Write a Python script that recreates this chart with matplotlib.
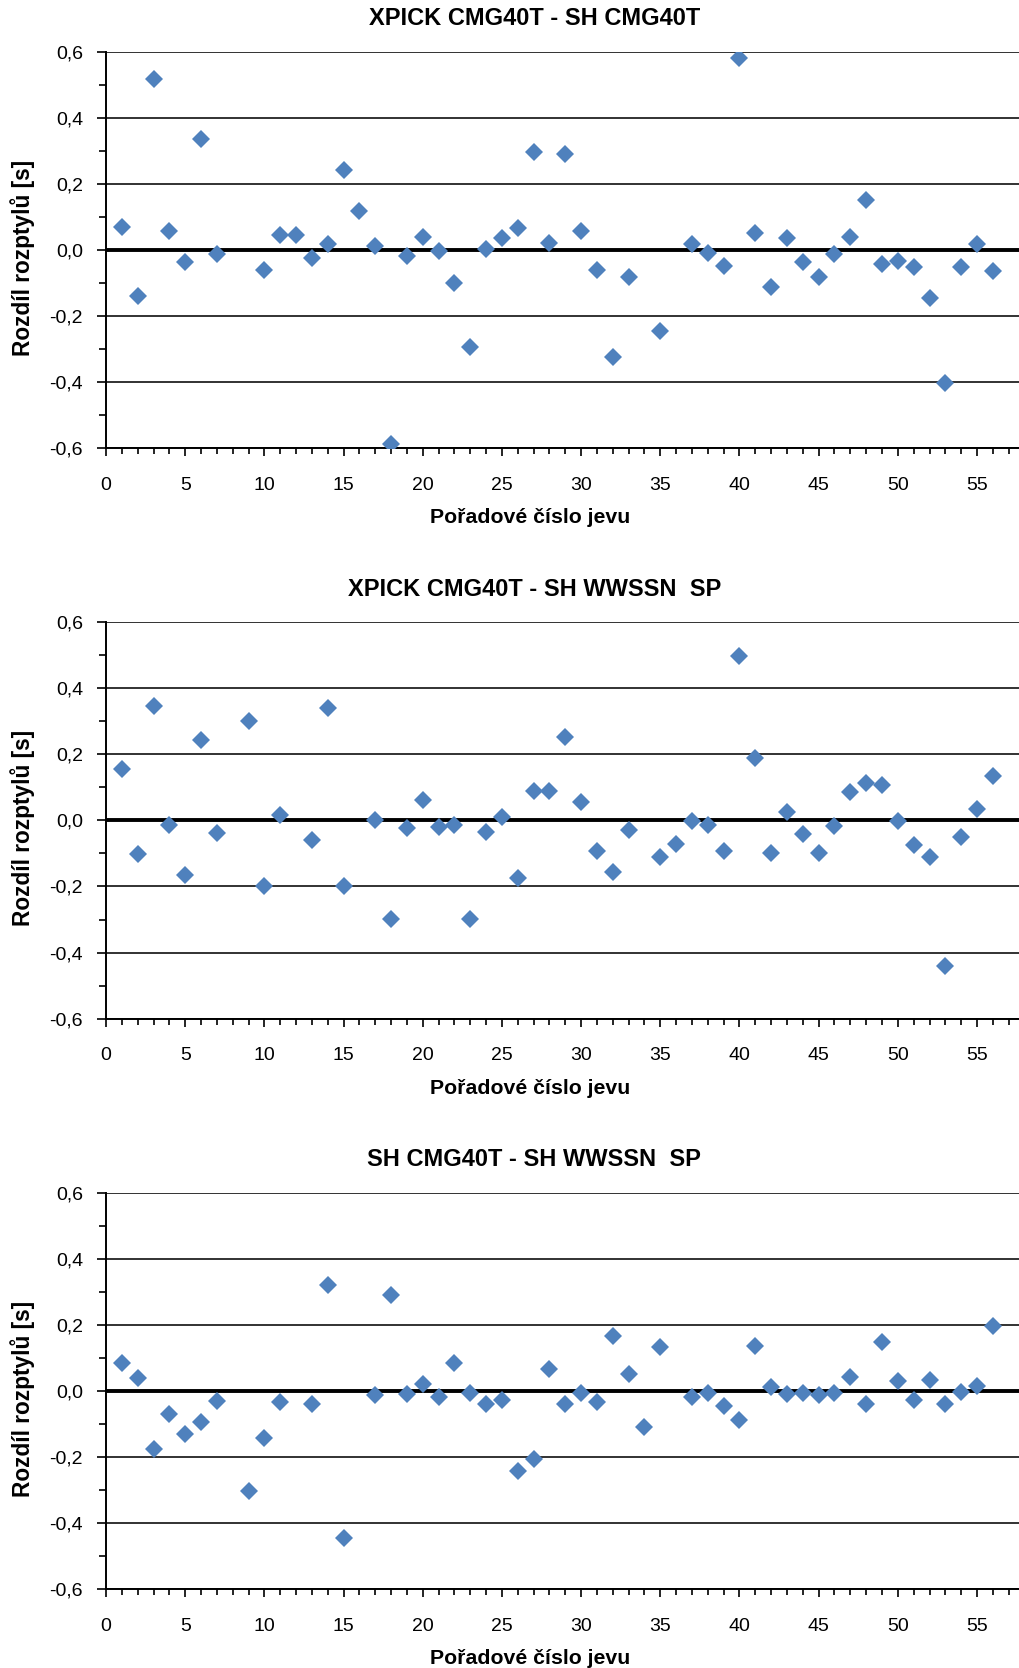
import numpy as np
import matplotlib
matplotlib.use("Agg")
import matplotlib.pyplot as plt
from matplotlib.ticker import MultipleLocator

plt.rcParams["font.family"] = ["Liberation Sans", "DejaVu Sans"]

nan = np.nan

# pořadové číslo jevu 1..56
events = np.arange(1, 57)

titles = [
    "XPICK CMG40T - SH CMG40T",
    "XPICK CMG40T - SH WWSSN  SP",
    "SH CMG40T - SH WWSSN  SP",
]

xpick_vs_sh_cmg = [
    0.069, -0.140, 0.517, 0.058, -0.035, 0.337, -0.013, nan, nan, -0.060,
    0.046, 0.046, -0.023, 0.019, 0.242, 0.119, 0.012, -0.588, -0.018, 0.040,
    -0.002, -0.100, -0.292, 0.003, 0.035, 0.067, 0.296, 0.021, 0.290, 0.058,
    -0.059, -0.325, -0.081, nan, -0.244, nan, 0.019, -0.010, -0.047, 0.581,
    0.052, -0.113, 0.035, -0.035, -0.083, -0.013, 0.040, 0.151, -0.042, -0.033,
    -0.052, -0.144, -0.401, -0.050, 0.017, -0.063,
]

xpick_vs_sh_wwssn = [
    0.155, -0.101, 0.345, -0.013, -0.164, 0.244, -0.039, nan, 0.301, -0.200,
    0.015, nan, -0.059, 0.340, -0.200, nan, 0.000, -0.297, -0.023, 0.063,
    -0.020, -0.015, -0.297, -0.035, 0.010, -0.173, 0.090, 0.090, 0.251, 0.055,
    -0.092, -0.157, -0.029, nan, -0.110, -0.073, -0.002, -0.015, -0.094, 0.496,
    0.190, -0.098, 0.026, -0.041, -0.098, -0.018, 0.085, 0.113, 0.107, -0.002,
    -0.075, -0.110, -0.442, -0.049, 0.034, 0.133,
]

sh_cmg_vs_sh_wwssn = [
    0.084, 0.038, -0.174, -0.070, -0.131, -0.095, -0.030, nan, -0.302, -0.142,
    -0.034, nan, -0.038, 0.321, -0.445, nan, -0.013, 0.290, -0.009, 0.021,
    -0.018, 0.084, -0.006, -0.040, -0.027, -0.241, -0.207, 0.068, -0.040, -0.005,
    -0.033, 0.167, 0.053, -0.109, 0.132, nan, -0.019, -0.007, -0.046, -0.088,
    0.136, 0.013, -0.009, -0.007, -0.013, -0.007, 0.043, -0.038, 0.149, 0.029,
    -0.026, 0.034, -0.039, -0.002, 0.014, 0.196,
]

series = [xpick_vs_sh_cmg, xpick_vs_sh_wwssn, sh_cmg_vs_sh_wwssn]

y_ticks = [-0.6, -0.4, -0.2, 0.0, 0.2, 0.4, 0.6]
y_tick_labels = ["-0,6", "-0,4", "-0,2", "0,0", "0,2", "0,4", "0,6"]
x_ticks = [0, 5, 10, 15, 20, 25, 30, 35, 40, 45, 50, 55]

fig = plt.figure(figsize=(10.19, 16.68), dpi=100)

W, H = 1019, 1668
left_px, top_px = 106, [51.7, 622, 1192.7]
ax_h_px = 396.7

for top, title, vals in zip(top_px, titles, series):
    ax = fig.add_axes([left_px / W, 1 - (top + ax_h_px) / H,
                       1 - left_px / W, ax_h_px / H])

    ax.set_xlim(0, 57.65)
    ax.set_ylim(-0.6, 0.6)

    for yv in y_ticks:
        if yv != 0.0:
            ax.axhline(yv, color="#222222", linewidth=1.3, zorder=1)
    ax.axhline(0.0, color="black", linewidth=2.8, zorder=2)

    ax.plot(events, np.array(vals, dtype=float), linestyle="none",
            marker="D", markersize=9, color="#4F81BD",
            markeredgewidth=0, zorder=3)

    ax.set_yticks(y_ticks)
    ax.set_yticklabels(y_tick_labels)
    ax.yaxis.set_minor_locator(MultipleLocator(0.1))
    ax.set_xticks(x_ticks)
    ax.xaxis.set_minor_locator(MultipleLocator(1))

    ax.tick_params(axis="y", which="major", length=6.5, width=1.2,
                   labelsize=14, pad=10, direction="out")
    ax.tick_params(axis="y", which="minor", length=5, width=1.2,
                   direction="out")
    ax.tick_params(axis="x", which="major", length=5.5, width=1.2,
                   labelsize=14, pad=15, direction="out")
    ax.tick_params(axis="x", which="minor", length=4, width=1.2,
                   direction="out")

    for side in ("top", "right"):
        ax.spines[side].set_visible(False)
    for side in ("left", "bottom"):
        ax.spines[side].set_linewidth(1.4)
        ax.spines[side].set_color("black")

    ax.set_ylabel("Rozdíl rozptylů [s]", fontsize=16.3, fontweight="bold")
    ax.yaxis.set_label_coords(-0.091, 0.48)
    ax.yaxis.label.set_va("center")

    ax.set_xlabel("Pořadové číslo jevu", fontsize=15.3, fontweight="bold")
    ax.xaxis.set_label_coords(0.464, -0.175)
    ax.xaxis.label.set_va("center")

    ax.text(0.469, 1.083, title, transform=ax.transAxes, ha="center",
            va="center", fontsize=17, fontweight="bold")

fig.savefig("out.png", dpi=100, facecolor="white")
